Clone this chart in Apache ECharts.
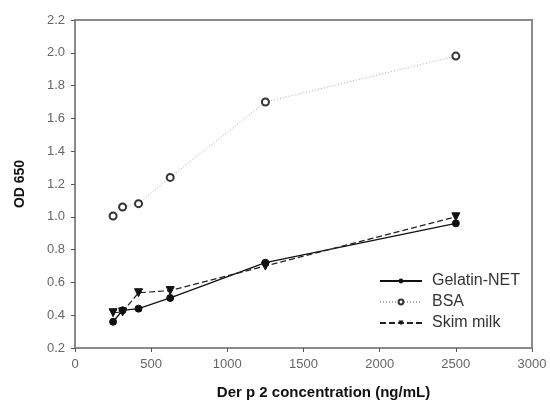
<!DOCTYPE html>
<html>
<head>
<meta charset="utf-8">
<script src="https://cdn.jsdelivr.net/npm/echarts@6/dist/echarts.min.js"></script>
<style>
  html, body { margin: 0; padding: 0; background: #fff; }
  #chart { width: 550px; height: 410px; }
</style>
</head>
<body>
<div id="chart"></div>
<script>
// Der p 2 concentrations (ng/mL)
const concentrations = [250, 312.5, 417, 625, 1250, 2500];
// OD 650 readings per blocking agent
const gelatinNet = [0.36, 0.43, 0.44, 0.505, 0.72, 0.96];
const bsa = [1.005, 1.06, 1.08, 1.24, 1.70, 1.98];
const skimMilk = [0.415, 0.42, 0.537, 0.55, 0.70, 1.00];

const pairs = (ys) => concentrations.map((x, i) => [x, ys[i]]);

const axisGrey = '#8a8a8a';
const font = 'Liberation Sans, Arial, sans-serif';
const labelStyle = { color: '#666', fontSize: 13, fontFamily: font };

const chart = echarts.init(document.getElementById('chart'));
chart.setOption({
  animation: false,
  backgroundColor: '#fff',
  grid: { left: 75, right: 18, top: 20, bottom: 62, show: true, borderColor: axisGrey, borderWidth: 2, backgroundColor: 'transparent' },
  xAxis: {
    type: 'value', min: 0, max: 3000, interval: 500,
    name: 'Der p 2 concentration (ng/mL)', nameLocation: 'middle', nameGap: 37,
    nameTextStyle: { color: '#111', fontSize: 15, fontWeight: 'bold', fontFamily: font, padding: [0, 0, 0, 40] },
    axisLine: { lineStyle: { color: axisGrey, width: 2 } },
    axisTick: { inside: false, length: 4, lineStyle: { color: '#555' } },
    axisLabel: Object.assign({ margin: 10, formatter: v => String(v) }, labelStyle),
    splitLine: { show: false }
  },
  yAxis: {
    type: 'value', min: 0.2, max: 2.2, interval: 0.2,
    name: 'OD 650', nameLocation: 'middle', nameGap: 48, nameRotate: 90,
    nameTextStyle: { color: '#111', fontSize: 14, fontWeight: 'bold', fontFamily: font },
    axisLine: { lineStyle: { color: axisGrey, width: 2 } },
    axisTick: { inside: false, length: 4, lineStyle: { color: '#555' } },
    axisLabel: Object.assign({ margin: 10, formatter: v => v.toFixed(1) }, labelStyle),
    splitLine: { show: false }
  },
  legend: {
    orient: 'vertical', right: 25, top: 268, itemGap: 5, itemWidth: 42, itemHeight: 6,
    textStyle: { color: '#333', fontSize: 16, fontFamily: font, padding: [0, 0, 0, 5] },
    data: ['Gelatin-NET', 'BSA', 'Skim milk']
  },
  series: [
    {
      name: 'Gelatin-NET', type: 'line', data: pairs(gelatinNet),
      symbol: 'circle', symbolSize: 7,
      lineStyle: { color: '#111', width: 1.3, type: 'solid' },
      itemStyle: { color: '#111', borderColor: '#111' }
    },
    {
      name: 'BSA', type: 'line', data: pairs(bsa),
      symbol: 'emptyCircle', symbolSize: 7,
      lineStyle: { color: '#aaa', width: 1, type: [1, 2] },
      itemStyle: { color: '#333', borderColor: '#333', borderWidth: 1.2 }
    },
    {
      name: 'Skim milk', type: 'line', data: pairs(skimMilk),
      symbol: 'triangle', symbolRotate: 180, symbolSize: 8,
      lineStyle: { color: '#222', width: 1.2, type: [6, 3] },
      itemStyle: { color: '#111', borderColor: '#111' }
    }
  ]
});
</script>
</body>
</html>
